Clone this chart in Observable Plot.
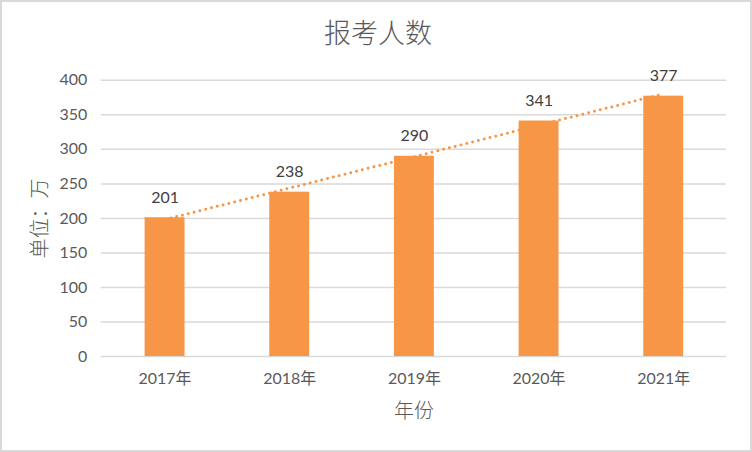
<!DOCTYPE html>
<html>
<head>
<meta charset="utf-8">
<script src="https://cdn.jsdelivr.net/npm/d3@7"></script>
<script src="https://cdn.jsdelivr.net/npm/@observablehq/plot@0.6"></script>
<style>
  html, body { margin: 0; padding: 0; background: #fff; }
  #wrap { position: relative; width: 748px; height: 448px; border: 2px solid #d9d9d9; overflow: hidden; }
  #title { position: absolute; left: 0; top: 10px; width: 752px; text-align: center;
           font-family: "Noto Sans CJK SC", sans-serif; font-weight: 300; font-size: 27px; color: #595959; line-height: 40px; }
  #chart { position: absolute; left: -2px; top: -2px; }
</style>
</head>
<body>
<div id="wrap">
  <div id="chart"></div>
  <div id="title">报考人数</div>
</div>
<script>
const years = ["2017年", "2018年", "2019年", "2020年", "2021年"];
const values = [201, 238, 290, 341, 377];
const yTicks = [0, 50, 100, 150, 200, 250, 300, 350, 400];
const xTitle = "年份";
const yTitle = "单位：万";

const data = years.map((y, i) => ({year: y, value: values[i], idx: i + 1}));

// linear trendline (least squares), as Excel draws it
const mx = d3.mean(data, d => d.idx), my = d3.mean(data, d => d.value);
const slope = d3.sum(data, d => (d.idx - mx) * (d.value - my)) / d3.sum(data, d => (d.idx - mx) ** 2);
const intercept = my - slope * mx;
const trend = data.map(d => ({year: d.year, value: intercept + slope * d.idx}));

const orange = "#F79646";
const cjk = "Lato, 'Noto Sans CJK SC', sans-serif";

const chart = Plot.plot({
  width: 752,
  height: 452,
  marginLeft: 101,
  marginRight: 24,
  marginTop: 80,
  marginBottom: 95,
  style: { fontFamily: cjk, fontSize: "16px", color: "#595959", background: "transparent" },
  x: { domain: years, paddingInner: 0.68, paddingOuter: 0.34, align: 0.5, label: null },
  y: { domain: [0, 400], ticks: yTicks, label: null },
  marks: [
    Plot.gridY(yTicks, { stroke: "#d9d9d9", strokeOpacity: 1, strokeWidth: 1.5 }),
    Plot.barY(data, { x: "year", y: "value", fill: orange }),
    Plot.line(trend, { x: "year", y: "value", stroke: orange, strokeWidth: 3,
      strokeDasharray: "0 6", strokeLinecap: "round" }),
    Plot.text(data, { x: "year", y: "value", text: d => String(d.value), dy: -15,
      lineAnchor: "bottom", fill: "#404040", fontSize: 16 }),
    Plot.axisY(yTicks, { tickSize: 0, tickPadding: 14, fontSize: 16, fill: "#595959", label: null }),
    Plot.axisX({ tickSize: 0, tickPadding: 16, fontSize: 16, fill: "#595959", label: null }),
    Plot.axisY({ ticks: [], label: yTitle, labelAnchor: "center", labelArrow: "none",
      labelOffset: 69, fontSize: 20, fill: "#595959", tickSize: 0,
      fontFamily: "'Noto Sans CJK SC', sans-serif", fontWeight: 300 }),
    Plot.axisX({ ticks: [], label: xTitle, labelAnchor: "center", labelArrow: "none",
      labelOffset: 62, fontSize: 20, fill: "#595959", tickSize: 0,
      fontFamily: "'Noto Sans CJK SC', sans-serif", fontWeight: 300 })
  ]
});
document.getElementById("chart").appendChild(chart);
</script>
</body>
</html>
